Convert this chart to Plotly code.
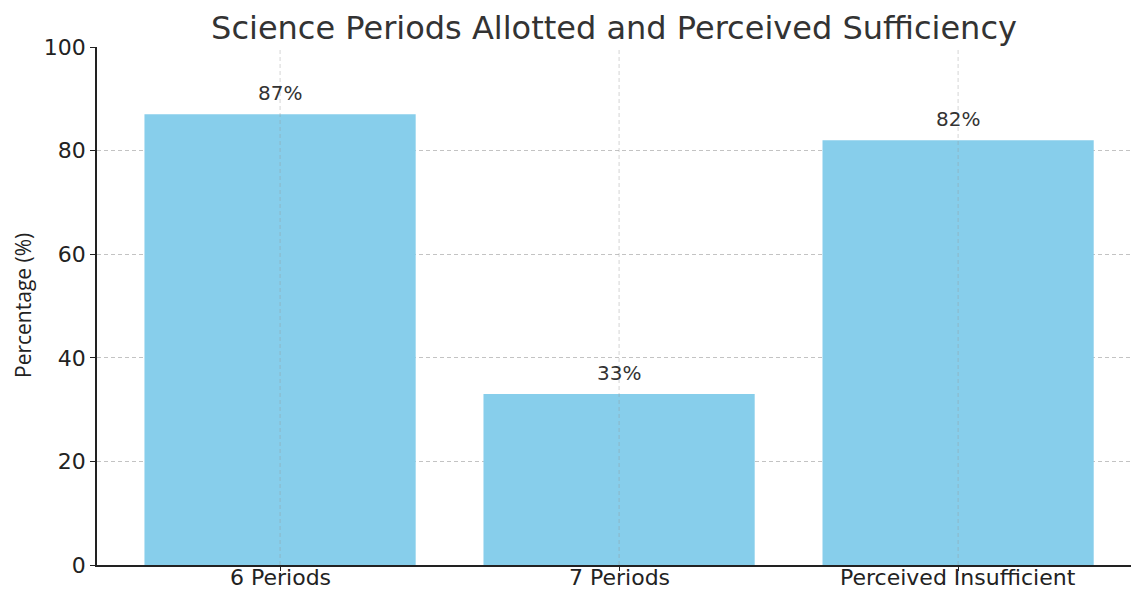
import plotly.graph_objects as go

categories = ["6 Periods", "7 Periods", "Perceived Insufficient"]
percentages = [87, 33, 82]
y_ticks = [0, 20, 40, 60, 80, 100]

bar_color = "#87CEEB"
text_color = "#333333"
axis_color = "#222222"
grid_color = "rgba(175,175,175,0.75)"

fig = go.Figure()
fig.add_trace(go.Bar(
    x=list(range(len(categories))),
    y=percentages,
    width=0.8,
    marker=dict(color=bar_color, line=dict(width=0)),
    hoverinfo="skip",
))

# value labels above each bar
for i, v in enumerate(percentages):
    fig.add_annotation(
        x=i, y=v, text=f"{v}%", showarrow=False,
        yanchor="bottom", yshift=7,
        font=dict(family="DejaVu Sans", size=20, color=text_color),
    )

# category labels under the axis, set tight against the bottom edge
for i, name in enumerate(categories):
    fig.add_annotation(
        x=i, xref="x", y=0, yref="paper", yshift=-12,
        text=name, showarrow=False,
        xanchor="center", yanchor="middle",
        font=dict(family="DejaVu Sans", size=22, color=axis_color),
    )

# vertical grid lines drawn over the bars
for i in range(len(categories)):
    fig.add_shape(
        type="line", xref="x", yref="paper", x0=i, x1=i, y0=0, y1=1,
        line=dict(color="rgba(150,150,150,0.4)", width=1, dash="4px,3px"),
        layer="above",
    )

# y-axis title
fig.add_annotation(
    xref="paper", yref="paper", x=0, y=0.5, xshift=-74,
    text="Percentage (%)", textangle=-90, showarrow=False,
    xanchor="center", yanchor="middle",
    font=dict(family="Open Sans", size=21, color=axis_color),
)

fig.update_layout(
    width=1131, height=589,
    margin=dict(l=97, r=0, t=47, b=24),
    paper_bgcolor="white", plot_bgcolor="white",
    showlegend=False,
    title=dict(
        text="Science Periods Allotted and Perceived Sufficiency",
        x=0.5, xref="paper", xanchor="center",
        y=1 - 28 / 589, yanchor="middle",
        font=dict(family="DejaVu Sans", size=32, color=text_color),
    ),
    font=dict(family="DejaVu Sans", color=text_color),
)

fig.update_xaxes(
    range=[-0.54, 2.51],
    tickmode="array",
    tickvals=list(range(len(categories))),
    showticklabels=False,
    ticks="outside", ticklen=4, tickcolor=axis_color,
    showline=True, linecolor=axis_color, linewidth=1.5,
    showgrid=False, zeroline=False, automargin=False,
)

fig.update_yaxes(
    range=[0, 100],
    tickmode="array",
    tickvals=y_ticks,
    tickfont=dict(family="DejaVu Sans", size=22, color=axis_color),
    ticks="outside", ticklen=5, tickcolor=axis_color,
    showline=True, linecolor=axis_color, linewidth=1.5,
    showgrid=True, gridcolor=grid_color, griddash="4px,3px", gridwidth=1,
    zeroline=False, automargin=False,
)

fig.write_html("out.html")
